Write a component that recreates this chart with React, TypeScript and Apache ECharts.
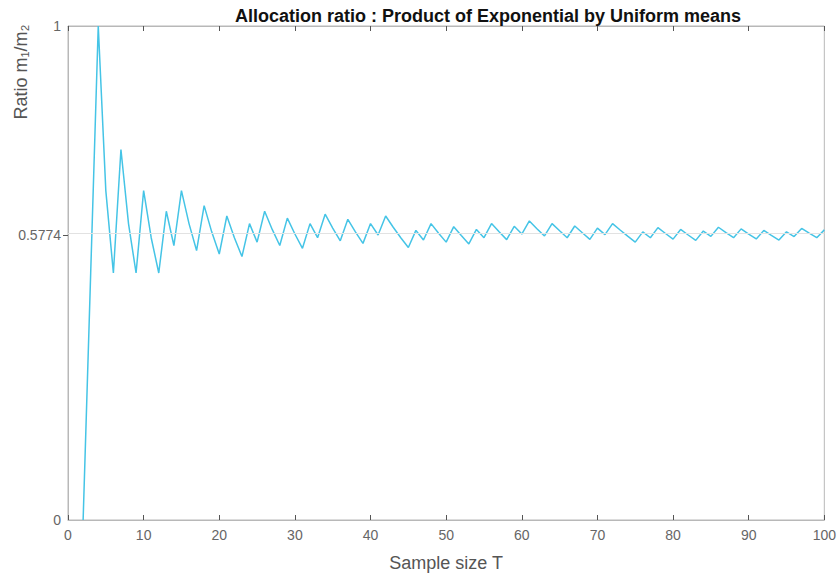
import React, { useEffect, useRef } from "react";
import * as echarts from "echarts";

const chartTitle = "Allocation ratio : Product of Exponential by Uniform means";
const xAxisName = "Sample size T";
const yAxisName = "Ratio m\u2081/m\u2082";
const targetRatio = 0.5774;
const yTickValues = [0, 0.5774, 1];
const firstSampleSize = 2;

// Ratio m1/m2 for T = 2 ... 100
const ratioValues = [
  0, 0.5, 1, 0.6667, 0.5, 0.75, 0.6, 0.5, 0.6667, 0.5714,
  0.5, 0.625, 0.5556, 0.6667, 0.6, 0.5455, 0.6364, 0.5833, 0.5385, 0.6154,
  0.5714, 0.5333, 0.6, 0.5625, 0.625, 0.5882, 0.5556, 0.6111, 0.5789, 0.55,
  0.6, 0.5714, 0.619, 0.5909, 0.5652, 0.6087, 0.5833, 0.56, 0.6, 0.5769,
  0.6154, 0.5926, 0.5714, 0.5517, 0.5862, 0.5667, 0.6, 0.5806, 0.5625, 0.5938,
  0.5758, 0.5588, 0.5882, 0.5714, 0.6, 0.5833, 0.5676, 0.5946, 0.5789, 0.6053,
  0.5897, 0.575, 0.6, 0.5854, 0.5714, 0.5952, 0.5814, 0.5682, 0.5909, 0.5778,
  0.6, 0.587, 0.5745, 0.5625, 0.5833, 0.5714, 0.5918, 0.58, 0.5686, 0.5882,
  0.5769, 0.566, 0.5849, 0.5741, 0.5926, 0.5818, 0.5714, 0.5893, 0.5789, 0.569,
  0.5862, 0.5763, 0.5667, 0.5833, 0.5738, 0.5902, 0.5806, 0.5714, 0.5873,
];

export default function App() {
  const ref = useRef<HTMLDivElement>(null);

  useEffect(() => {
    if (!ref.current) return;
    const chart = echarts.init(ref.current, null, { renderer: "svg" });
    const seriesData = ratioValues.map((v, i) => [firstSampleSize + i, v]);
    const font = "'Liberation Sans', Arial, sans-serif";

    chart.setOption({
      animation: false,
      backgroundColor: "#ffffff",
      title: {
        text: chartTitle,
        left: 483,
        top: 2,
        textAlign: "center",
        textStyle: {
          fontFamily: font,
          fontSize: 18,
          fontWeight: "bold",
          color: "#111",
        },
      },
      grid: {
        left: 68,
        right: 13,
        top: 26,
        bottom: 57,
        show: true,
        borderColor: "#b8b8b8",
        borderWidth: 1,
      },
      xAxis: [
        {
          type: "value",
          min: 0,
          max: 100,
          interval: 10,
          name: xAxisName,
          nameLocation: "middle",
          nameGap: 34,
          nameTextStyle: { fontFamily: font, fontSize: 18, color: "#555" },
          axisLine: { show: true, lineStyle: { color: "#b8b8b8" } },
          axisTick: { show: true, inside: true, length: 5, lineStyle: { color: "#555" } },
          axisLabel: { fontFamily: font, fontSize: 14, color: "#666", margin: 8 },
          splitLine: { show: false },
        },
        {
          type: "value",
          position: "top",
          min: 0,
          max: 100,
          interval: 10,
          axisLine: { show: true, lineStyle: { color: "#b8b8b8" } },
          axisTick: { show: true, inside: true, length: 5, lineStyle: { color: "#555" } },
          axisLabel: { show: false },
          splitLine: { show: false },
        },
      ],
      yAxis: {
        type: "value",
        min: 0,
        max: 1,
        axisLine: { show: true, lineStyle: { color: "#b8b8b8" } },
        axisTick: {
          show: true,
          customValues: [targetRatio],
          length: 5,
          lineStyle: { color: "#555" },
        },
        axisLabel: {
          customValues: yTickValues,
          fontFamily: font,
          fontSize: 14,
          color: "#666",
          margin: 7,
          formatter: (v: number) => String(v),
        },
        splitLine: { show: false },
      },
      graphic: [
        {
          type: "text",
          x: 21,
          y: 72,
          rotation: Math.PI / 2,
          style: {
            text: yAxisName,
            fontFamily: font,
            fontSize: 18,
            fill: "#555",
            textAlign: "center",
            textVerticalAlign: "middle",
          },
        },
      ],
      series: [
        {
          type: "line",
          data: seriesData,
          xAxisIndex: 0,
          showSymbol: false,
          lineStyle: { color: "#45c4e6", width: 1.5 },
          itemStyle: { color: "#45c4e6" },
          markLine: {
            silent: true,
            symbol: "none",
            label: { show: false },
            lineStyle: { color: "#e2e2e2", type: "solid", width: 1 },
            data: [{ yAxis: targetRatio }],
          },
          z: 3,
        },
      ],
    });

    return () => chart.dispose();
  }, []);

  return (
    <div
      ref={ref}
      style={{ position: "fixed", left: 0, top: 0, width: 839, height: 577 }}
    />
  );
}
